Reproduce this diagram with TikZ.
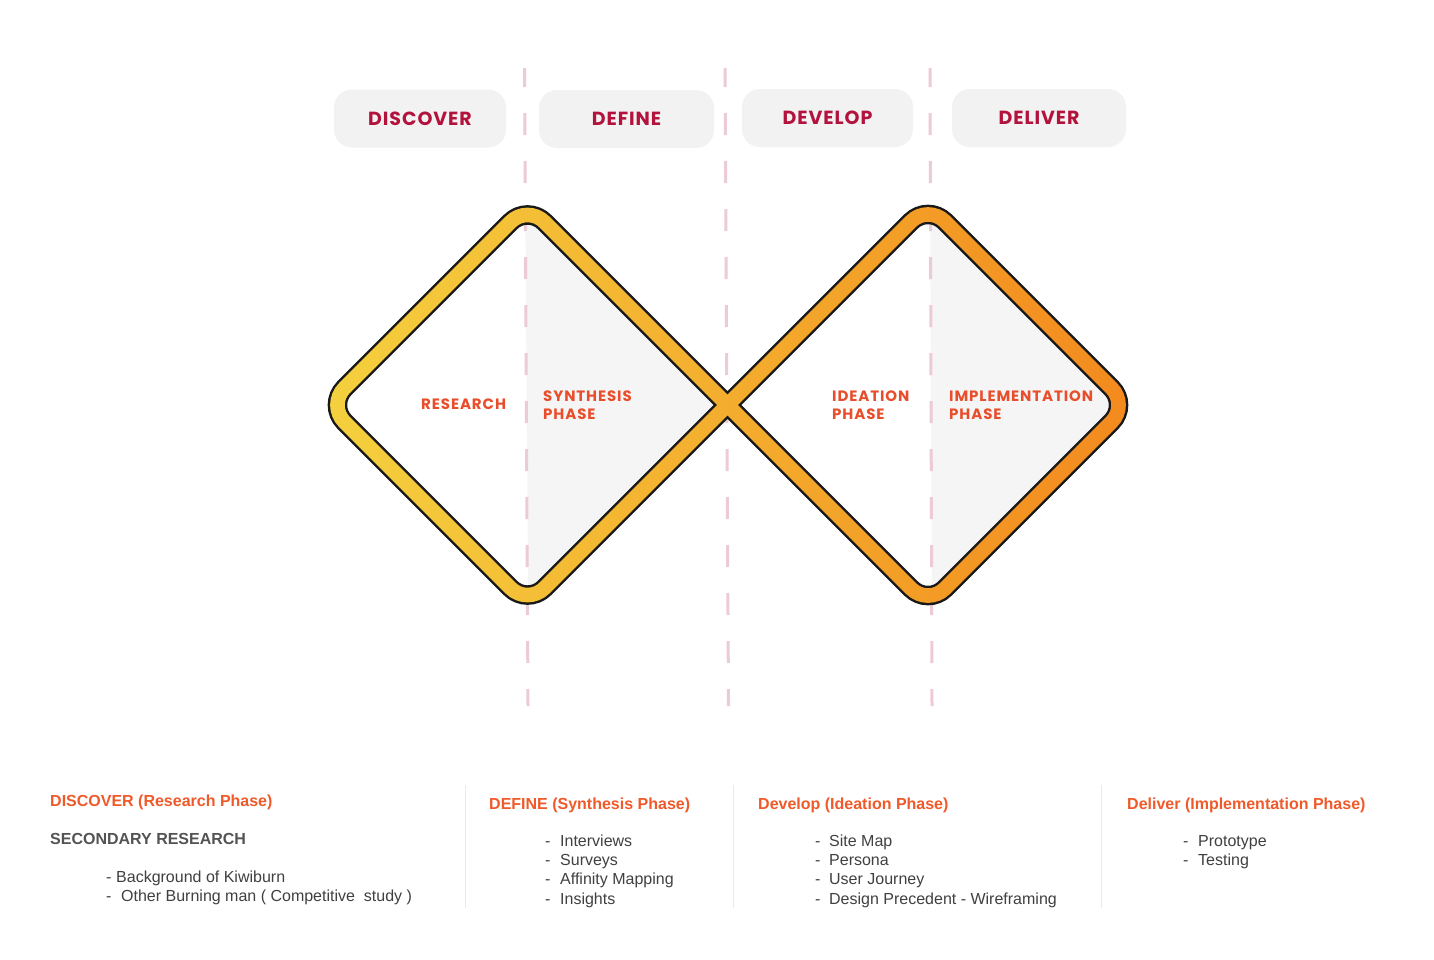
\documentclass[tikz,border=0pt]{standalone}
\usepackage{fontspec}
\setmainfont{Liberation Sans}
\newfontfamily\stagefont{Poppins}[LetterSpace=5]
\newfontfamily\phasefont{Poppins}[LetterSpace=6]

\definecolor{stagered}{HTML}{B3123D}
\definecolor{phaseorange}{HTML}{E84E2B}
\definecolor{headorange}{HTML}{F05A2A}
\definecolor{bodygray}{HTML}{404040}
\definecolor{boxgray}{HTML}{F2F2F2}
\definecolor{panelgray}{HTML}{F5F5F5}
\definecolor{guidepink}{HTML}{EDCBD6}
\definecolor{rulepink}{HTML}{F6E4E9}
\definecolor{bandL}{HTML}{F4D03E}
\definecolor{bandR}{HTML}{F38A1E}

% centre line of the figure-eight band (two rounded diamonds crossing)
\newcommand\eightloop[1]{%
  \draw[#1, rounded corners=24pt]
    (627.5,305) -- (527.5,205) -- (327.5,405) -- (527.5,605)
    -- (928,204.5) -- (1128.5,405) -- (928,605.5) -- cycle;}

\tikzset{
  stagebox/.style={fill=boxgray, rounded corners=18pt, minimum width=172pt,
    minimum height=58pt, inner sep=0pt, text=stagered,
    font=\stagefont\bfseries\fontsize{19}{19}\selectfont},
  phaselabel/.style={anchor=west, inner sep=0pt, align=left, text=phaseorange,
    font=\phasefont\bfseries\fontsize{15}{18}\selectfont},
  guide/.style={guidepink, line width=3pt, dash pattern=on 22pt off 26pt, dash phase=3pt},
  colrule/.style={rulepink, line width=1pt},
  colhead/.style={anchor=base west, inner sep=0pt, text=headorange,
    font=\bfseries\fontsize{16}{19}\selectfont},
  colsub/.style={anchor=base west, inner sep=0pt, text=bodygray!90!white,
    font=\bfseries\fontsize{16}{19}\selectfont},
  colitem/.style={anchor=base west, inner sep=0pt, text=bodygray,
    font=\fontsize{16}{19}\selectfont},
}

\begin{document}
\begin{tikzpicture}[x=1pt, y=-1pt]
  \useasboundingbox (0,0) rectangle (1434,959);
  \fill[white] (0,0) rectangle (1434,959);

  % shaded right halves of both diamonds
  \begin{scope}
    \clip (525,180) -- (528.5,630) -- (760,630) -- (760,180) -- cycle;
    \fill[panelgray, rounded corners=24pt] (527.5,205) -- (327.5,405) -- (527.5,605) -- (727.5,405) -- cycle;
  \end{scope}
  \begin{scope}
    \clip (930,180) -- (932,630) -- (1160,630) -- (1160,180) -- cycle;
    \fill[panelgray, rounded corners=24pt] (928,204.5) -- (727.5,405) -- (928,605.5) -- (1128.5,405) -- cycle;
  \end{scope}

  % dashed stage dividers
  \coordinate (g1t) at (524.5,68);  \coordinate (g1b) at (528,706);
  \coordinate (g2t) at (725,68);    \coordinate (g2b) at (728.5,706);
  \coordinate (g3t) at (930,68);    \coordinate (g3b) at (932,706);
  \draw[guide] (g1t) -- (g1b);
  \draw[guide] (g2t) -- (g2b);
  \draw[guide] (g3t) -- (g3b);

  % figure-eight band: dark outline, then a yellow-to-orange fill in thin strips
  \eightloop{black!90, line width=19.5pt}
  \foreach \i in {0,...,84}{
    \pgfmathsetmacro{\xa}{310+10*\i}
    \pgfmathtruncatemacro{\pct}{max(0,min(100,round((\xa+5-327)/8.02)))}
    \begin{scope}
      \clip (\xa-0.2,170) rectangle (\xa+10.2,640);
      \eightloop{bandR!\pct!bandL, line width=14.6pt}
    \end{scope}
  }

  % stage headers
  \node[stagebox] (discover) at (420,118.5) {DISCOVER};
  \node[stagebox, minimum width=175pt] (define) at (626.5,119) {DEFINE};
  \node[stagebox, minimum width=171pt] (develop) at (827.5,118) {DEVELOP};
  \node[stagebox, minimum width=174pt] (deliver) at (1039,118) {DELIVER};

  % phase labels inside the diamonds
  \node[phaselabel] (research) at (421,404) {RESEARCH};
  \node[phaselabel] (synthesis) at (543,405.5) {SYNTHESIS\\PHASE};
  \node[phaselabel] (ideation) at (832,405.5) {IDEATION\\PHASE};
  \node[phaselabel] (implementation) at (949,405.5) {IMPLEMENTATION\\PHASE};

  % column separators
  \coordinate (s1t) at (465.5,785); \coordinate (s1b) at (465.5,908);
  \coordinate (s2t) at (733,785);   \coordinate (s2b) at (733,908);
  \coordinate (s3t) at (1101.5,785);\coordinate (s3b) at (1101.5,908);
  \draw[colrule] (s1t) -- (s1b);
  \draw[colrule] (s2t) -- (s2b);
  \draw[colrule] (s3t) -- (s3b);

  % discover column
  \node[colhead] (discoverhead) at (50,806.5) {DISCOVER (Research Phase)};
  \node[colsub] (secondary) at (50,844) {SECONDARY RESEARCH};
  \node[colitem] (kiwiburn) at (106,882.5) {\makebox[10pt][l]{-}Background of Kiwiburn};
  \node[colitem] (burning) at (106,901.5) {\makebox[15pt][l]{-}Other Burning man ( Competitive\ \ study )};

  % define column
  \node[colhead] (definehead) at (489,809) {DEFINE (Synthesis Phase)};
  \node[colitem] (interviews) at (545,846.5) {\makebox[15pt][l]{-}Interviews};
  \node[colitem] (surveys) at (545,865.7) {\makebox[15pt][l]{-}Surveys};
  \node[colitem] (affinity) at (545,884.9) {\makebox[15pt][l]{-}Affinity Mapping};
  \node[colitem] (insights) at (545,904.1) {\makebox[15pt][l]{-}Insights};

  % develop column
  \node[colhead] (develophead) at (758,809) {Develop (Ideation Phase)};
  \node[colitem] (sitemap) at (815,846.5) {\makebox[14pt][l]{-}Site Map};
  \node[colitem] (persona) at (815,865.7) {\makebox[14pt][l]{-}Persona};
  \node[colitem] (journey) at (815,884.9) {\makebox[14pt][l]{-}User Journey};
  \node[colitem] (precedent) at (815,904.1) {\makebox[14pt][l]{-}Design Precedent - Wireframing};

  % deliver column
  \node[colhead] (deliverhead) at (1127,809) {Deliver (Implementation Phase)};
  \node[colitem] (prototype) at (1183,846.5) {\makebox[15pt][l]{-}Prototype};
  \node[colitem] (testing) at (1183,865.7) {\makebox[15pt][l]{-}Testing};
\end{tikzpicture}
\end{document}
